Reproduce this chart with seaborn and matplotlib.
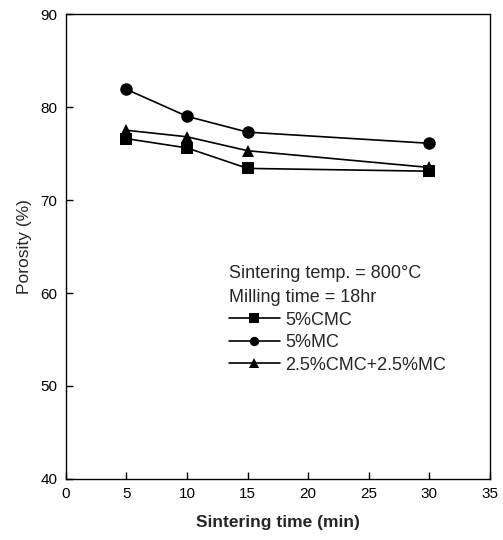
import numpy as np
import pandas as pd
import matplotlib
matplotlib.use("Agg")
import matplotlib.pyplot as plt
import seaborn as sns

time_min = [5, 10, 15, 30]
cmc = [76.6, 75.6, 73.4, 73.1]
mc = [81.9, 79.0, 77.3, 76.1]
mix = [77.5, 76.8, 75.3, 73.5]
series_names = ["5%CMC", "5%MC", "2.5%CMC+2.5%MC"]
x_ticks = [0, 5, 10, 15, 20, 25, 30, 35]
y_ticks = [40, 50, 60, 70, 80, 90]

df = pd.DataFrame({
    "time": time_min * 3,
    "porosity": cmc + mc + mix,
    "series": [series_names[0]] * 4 + [series_names[1]] * 4 + [series_names[2]] * 4,
})

sns.set_theme(style="ticks")
plt.rcParams["font.family"] = ["Liberation Sans", "DejaVu Sans"]
plt.rcParams["xtick.direction"] = "in"
plt.rcParams["ytick.direction"] = "in"

fig = plt.figure(figsize=(5.03, 5.40), dpi=100)
ax = fig.add_axes([0.131, 0.113, 0.843, 0.861])

sns.lineplot(data=df, x="time", y="porosity", hue="series", style="series",
             hue_order=series_names, style_order=series_names,
             palette=["black"] * 3, markers=["s", "o", "^"], dashes=False,
             markersize=9, linewidth=1.2, markeredgewidth=0, ax=ax)

ax.set_xlim(0, 35)
ax.set_ylim(40, 90)
ax.set_xticks(x_ticks)
ax.set_yticks(y_ticks)
ax.tick_params(labelsize=11, length=5, width=1, colors="black", pad=6)
for s in ax.spines.values():
    s.set_linewidth(1.0)
    s.set_color("black")
ax.set_xlabel("Sintering time (min)", fontsize=12.5, fontweight="bold", labelpad=10)
ax.set_ylabel("Porosity (%)", fontsize=12.5, labelpad=6)

handles, labels = ax.get_legend_handles_labels()
leg = ax.legend(handles, labels, title="Sintering temp. = 800°C\nMilling time = 18hr",
                loc="upper left", bbox_to_anchor=(0.385, 0.46), frameon=False,
                fontsize=13, title_fontsize=13, handlelength=2.8, markerscale=0.75,
                handletextpad=0.3, labelspacing=0.3, borderaxespad=0, borderpad=0)
leg._legend_box.align = "left"
leg.get_title().set_linespacing(1.55)

fig.savefig("out.png", dpi=100)
